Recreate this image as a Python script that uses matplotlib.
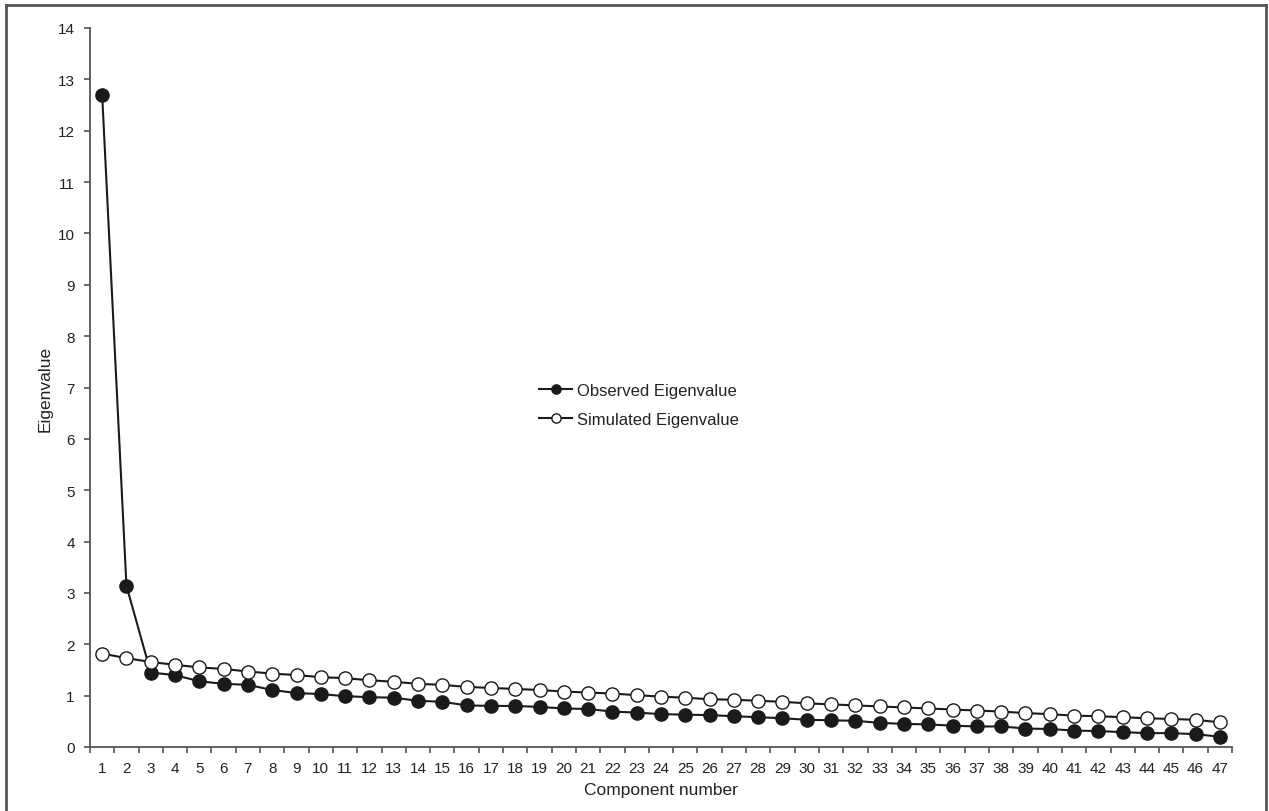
import matplotlib
matplotlib.use("Agg")
import matplotlib.pyplot as plt
from matplotlib.lines import Line2D
from matplotlib.ticker import FixedLocator, NullFormatter

components = list(range(1, 48))
observed = [12.70, 3.14, 1.45, 1.40, 1.28, 1.23, 1.21, 1.11, 1.05, 1.03,
            0.99, 0.97, 0.96, 0.90, 0.88, 0.81, 0.80, 0.80, 0.78, 0.75,
            0.74, 0.69, 0.67, 0.64, 0.63, 0.62, 0.60, 0.58, 0.56, 0.53,
            0.52, 0.51, 0.47, 0.45, 0.44, 0.415, 0.40, 0.40, 0.36, 0.35,
            0.32, 0.31, 0.29, 0.27, 0.27, 0.25, 0.20]
simulated = [1.82, 1.73, 1.655, 1.60, 1.55, 1.52, 1.47, 1.43, 1.40, 1.36,
             1.34, 1.30, 1.27, 1.23, 1.21, 1.17, 1.15, 1.13, 1.11, 1.08,
             1.06, 1.04, 1.01, 0.98, 0.96, 0.93, 0.92, 0.90, 0.88, 0.85,
             0.83, 0.81, 0.79, 0.77, 0.75, 0.73, 0.71, 0.69, 0.66, 0.64,
             0.61, 0.60, 0.58, 0.56, 0.545, 0.53, 0.48]
y_ticks = list(range(0, 15))

plt.rcParams['font.family'] = ['Liberation Sans', 'DejaVu Sans']

W, H = 1269, 812
fig = plt.figure(figsize=(W / 100, H / 100), dpi=100)
ax = fig.add_axes([90 / W, (H - 748) / H, (1232 - 90) / W, (748 - 29) / H])

axis_col = '#555555'
text_col = '#222222'
line_col = '#1a1a1a'

ax.plot(components, observed, color=line_col, lw=1.5, marker='o', ms=9.5,
        mfc='#1a1a1a', mec='#1a1a1a', mew=1.0, label='Observed Eigenvalue', zorder=3)
ax.plot(components, simulated, color=line_col, lw=1.5, marker='o', ms=9.5,
        mfc='white', mec='#1a1a1a', mew=1.0, label='Simulated Eigenvalue', zorder=3)

ax.set_xlim(0.5, 47.5)
ax.set_ylim(0, 14)
ax.set_yticks(y_ticks)
ax.set_xticks(components)
ax.set_xticklabels([str(c) for c in components])
ax.xaxis.set_minor_locator(FixedLocator([i + 0.5 for i in range(0, 48)]))
ax.xaxis.set_minor_formatter(NullFormatter())

for s in ['top', 'right']:
    ax.spines[s].set_visible(False)
for s in ['left', 'bottom']:
    ax.spines[s].set_color(axis_col)
    ax.spines[s].set_linewidth(1.3)

ax.tick_params(axis='x', which='major', length=0, pad=10, labelsize=11, labelcolor=text_col)
ax.tick_params(axis='x', which='minor', length=4, width=1.2, color=axis_col, direction='out')
ax.tick_params(axis='y', which='major', length=4, width=1.2, color=axis_col, pad=7,
               labelsize=11, labelcolor=text_col)

ax.set_xlabel('Component number', fontsize=12.5, color=text_col, labelpad=5)
ax.set_ylabel('Eigenvalue', fontsize=12.5, color=text_col, labelpad=4)

leg = ax.legend(loc='center left', bbox_to_anchor=((539 - 90) / 1142, (748 - 406) / 719),
                frameon=False, fontsize=12, markerscale=0.7, handlelength=2.0,
                handletextpad=0.3, borderpad=0, borderaxespad=0, labelspacing=0.85)
for t in leg.get_texts():
    t.set_color(text_col)

# outer frame (open at bottom)
bx0, by0, bx1 = 6 / W, 1 - 6 / H, 1266 / W
frame_kw = dict(color='#555555', lw=2.0, transform=fig.transFigure)
fig.add_artist(Line2D([bx0, bx1], [by0, by0], **frame_kw))
fig.add_artist(Line2D([bx0, bx0], [by0, 0], **frame_kw))
fig.add_artist(Line2D([bx1, bx1], [by0, 0], **frame_kw))

fig.savefig('out.png', dpi=100)
